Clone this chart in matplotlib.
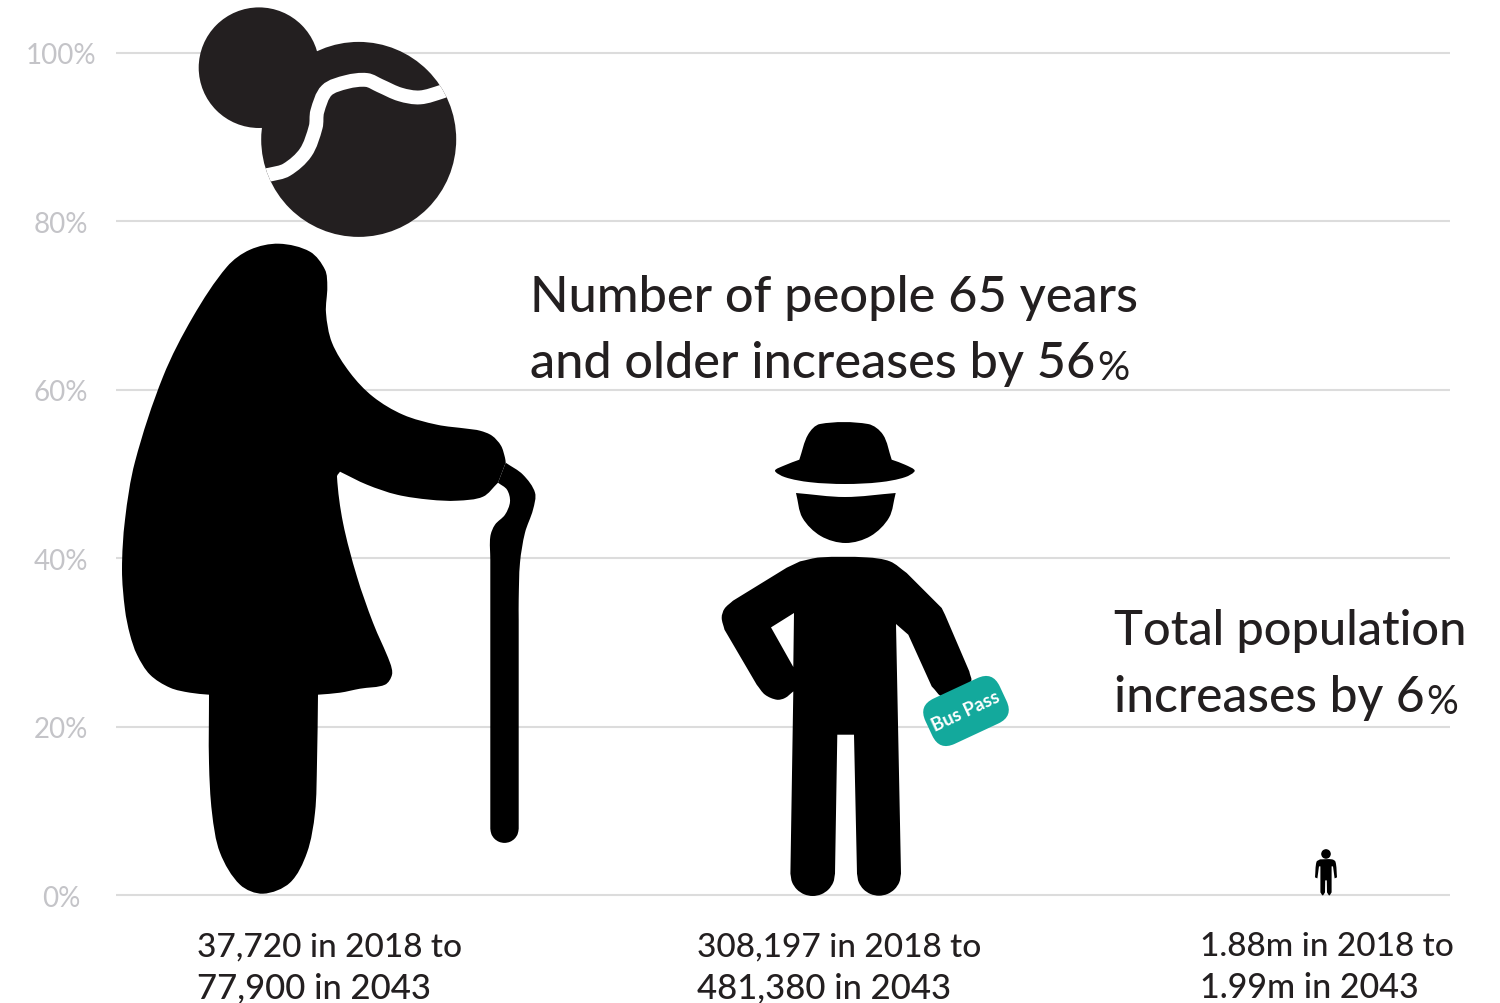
import matplotlib
matplotlib.use("Agg")
import matplotlib.pyplot as plt
import numpy as np
from matplotlib.patches import BoxStyle, PathPatch
from matplotlib.path import Path
from matplotlib.transforms import Affine2D

plt.rcParams["font.family"] = ["Lato", "DejaVu Sans"]

# Growth from 2018 to 2043, in percent, one figure per age group
groups = ["85 and older", "65 and older", "Total population"]
growth = [106.5, 56, 6]
bottom_lines = [
    ("37,720 in 2018 to", "77,900 in 2043"),
    ("308,197 in 2018 to", "481,380 in 2043"),
    ("1.88m in 2018 to", "1.99m in 2043"),
]
y_ticks = [0, 20, 40, 60, 80, 100]
y_tick_labels = ["0%", "20%", "40%", "60%", "80%", "100%"]

W, H = 1500, 1004
LEFT, RIGHT, TOP, BASE = 116.0, 1450.0, 54.0, 896.4
ART_BASE = 895.7
UNIT = (BASE - TOP) / 100.0
INK = "#231f20"
GRID = "#dcdcdc"
TICK = "#c4c4c8"
TEAL = "#13a99c"


def arc(cx, cy, r, start, end, n=9):
    """Points along a circular arc, angles in degrees, y running downwards."""
    a = np.radians(np.linspace(start, end, n))
    return list(zip(cx + r * np.cos(a), cy + r * np.sin(a)))


# Icon artwork, y running downwards; runs join at sharp corners
WOMAN_BODY = [
    [(505.7, 463), (505, 458), (501, 446), (492, 436), (480, 431), (467, 429), (437, 425), (403, 415), (373, 397),
     (350, 373), (332, 343), (326, 313), (327.3, 287), (325, 270), (310, 252), (279, 244), (250, 250),
     (227, 267), (193, 317), (163, 377), (135, 462), (125, 520), (122, 570), (125, 610), (130, 635), (137, 655),
     (150, 675), (170, 688), (190, 693), (209, 695)],
    [(209, 695), (209, 763), (212, 813), (220, 853), (240, 885), (263, 894), (290, 883), (307, 853),
     (315, 813), (317, 763), (318, 695)],
    [(318, 695), (340, 693), (360, 689), (385, 685), (392, 675), (390, 663), (373, 623), (357, 577),
     (343, 523), (337, 477), (340, 472)],
    [(340, 472), (367, 485), (397, 495), (430, 500), (457, 501), (483, 497), (498, 483)],
    [(498, 483), (505.7, 463)],
]
WOMAN_CANE = [
    [(505.7, 463), (523, 475), (535, 493), (533, 510), (525, 533), (520, 563), (518.7, 600), (518.7, 620)],
    [(518.7, 620), (518.7, 829)],
    arc(504.5, 829, 14.2, 0, 180),
    [(490.3, 829), (490.3, 560)],
    [(490.3, 560), (490.3, 537), (495, 525), (505, 515), (510, 502), (507, 490), (498, 483)],
    [(498, 483), (505.7, 463)],
]
HEAD_CENTRE, HEAD_RADIUS = (358.7, 139.7), 97.5
BUN_CENTRE, BUN_RADIUS = (259.0, 68.0), 60.3
HAIR_LINE = [(261.7, 176), (269.3, 175), (286.7, 170), (305.7, 152.7), (315.7, 127.3), (317.3, 111.7), (326.7, 90.7),
             (346.7, 82.3), (366.7, 80.3), (380, 86), (400, 94.7), (420, 97.7), (442.7, 91.7), (453, 87.3)]

MAN_HAT = [
    [(799.3, 460), (808, 435), (820, 424.3), (868, 424.3), (883, 435), (891.7, 460)],
    [(891.7, 460), (905, 465), (914.7, 471), (905, 477.5), (880, 482.5), (845, 484.3), (810, 482.5), (785, 477.5),
     (775, 471), (785, 465.5), (799.3, 460)],
]
MAN_FACE = [
    [(796, 493.3), (845, 497.3), (895.7, 493.3)],
    [(895.7, 493.3), (889, 518), (870.7, 536.3), (845.7, 543.3), (820.7, 536.3), (802.4, 518), (796, 493.3)],
]
MAN_BODY = [
    [(800, 561.7), (820, 557.7), (866.7, 557.7), (890, 561.7), (906.7, 573.3)],
    [(906.7, 573.3), (941.7, 608.3)],
    [(941.7, 608.3), (945, 615)],
    [(945, 615), (969.3, 671.7)],
    [(969.3, 671.7), (970.7, 682), (943, 696.7), (931.7, 686.7)],
    [(931.7, 686.7), (908.3, 635)],
    [(908.3, 635), (896, 624.3)],
    [(896, 624.3), (901, 874)],
    arc(879, 874, 22, 0, 180),
    [(857, 874), (854, 735)],
    [(854, 735), (837.3, 735)],
    [(837.3, 735), (835, 874)],
    arc(812.7, 874, 22.3, 0, 180),
    [(790.4, 874), (793.3, 691.7)],
    [(793.3, 691.7), (785, 698.3), (776.7, 700), (765, 695), (756.7, 685)],
    [(756.7, 685), (724.5, 630)],
    [(724.5, 630), (721.7, 618), (724.5, 609), (733, 601)],
    [(733, 601), (786.7, 568)],
    [(786.7, 568), (800, 561.7)],
]
MAN_ARM_GAP = [[(794, 613.3), (771, 627.7)], [(771, 627.7), (793.3, 667.3)], [(793.3, 667.3), (794, 613.3)]]
PASS_CENTRE, PASS_SIZE, PASS_ANGLE = (966.0, 711.3), (82.0, 50.0), 25.0

# Small standing person, centred on x = 0, baseline at y = 0, full box 50.5 high
PERSON_HEAD_CENTRE, PERSON_HEAD_RADIUS = (0.0, -41.4), 4.8
PERSON_BODY = [
    [(-6, -36), (6, -36), (9.5, -33.5), (11, -18)],
    [(11, -18), (8.6, -17)],
    [(8.6, -17), (7, -29)],
    [(7, -29), (5.6, -29)],
    [(5.6, -29), (5.6, -3)],
    [(5.6, -3), (3.3, 0), (1, -3)],
    [(1, -3), (0.8, -15)],
    [(0.8, -15), (-0.8, -15)],
    [(-0.8, -15), (-1, -3)],
    [(-1, -3), (-3.3, 0), (-5.6, -3)],
    [(-5.6, -3), (-5.6, -29)],
    [(-5.6, -29), (-7, -29)],
    [(-7, -29), (-8.6, -17)],
    [(-8.6, -17), (-11, -18)],
    [(-11, -18), (-9.5, -33.5), (-6, -36)],
]


def outline(runs, close=True):
    """Turn runs of traced points into one Bezier path (chord-length spline within a run)."""
    verts, codes = [], []
    for r_i, run in enumerate(runs):
        p = np.asarray(run, float)
        if r_i == 0:
            verts.append(p[0])
            codes.append(Path.MOVETO)
        d = np.linalg.norm(np.diff(p, axis=0), axis=1)
        t = np.concatenate([[0], np.cumsum(d)])
        m = np.zeros_like(p)
        m[0] = (p[1] - p[0]) / d[0]
        m[-1] = (p[-1] - p[-2]) / d[-1]
        for i in range(1, len(p) - 1):
            m[i] = (p[i + 1] - p[i - 1]) / (t[i + 1] - t[i - 1])
        for i in range(len(p) - 1):
            verts += [p[i] + m[i] * d[i] / 3, p[i + 1] - m[i + 1] * d[i] / 3, p[i + 1]]
            codes += [Path.CURVE4] * 3
    if close:
        verts.append(verts[0])
        codes.append(Path.CLOSEPOLY)
    return Path(np.array(verts), codes)


def circle(centre, radius):
    return Path.circle(centre, radius)


def placed(path, anchor_x, anchor_to, value, box, base=0.0):
    """Scale artwork so that its box height equals value on the y axis."""
    s = value * UNIT / box
    v = path.vertices
    out = np.column_stack([anchor_to + s * (v[:, 0] - anchor_x), s * (base - v[:, 1]) / UNIT])
    return Path(out, path.codes)


fig = plt.figure(figsize=(W / 100, H / 100), dpi=100, facecolor="white")
ax = fig.add_axes([LEFT / W, 1 - BASE / H, (RIGHT - LEFT) / W, (BASE - TOP) / H])
ax.set_xlim(LEFT, RIGHT)
ax.set_ylim(0, 100)
for side in ax.spines.values():
    side.set_visible(False)
ax.set_xticks([])
ax.set_yticks(y_ticks)
ax.set_yticklabels(y_tick_labels, fontsize=20, color=TICK, ha="center")
ax.tick_params(axis="y", length=0, pad=39.5)
ax.grid(axis="y", color=GRID, linewidth=1.5, zorder=0, solid_capstyle="butt")
for line in ax.get_ygridlines():
    line.set_clip_on(False)
ax.set_axisbelow(True)

centres = [328.0, 845.0, 1326.0]
woman_box = 106.5 * UNIT
man_box = 56 * UNIT


def draw(path, colour, zorder=3, **kw):
    patch = PathPatch(path, facecolor=colour, edgecolor="none", zorder=zorder, clip_on=False, **kw)
    ax.add_patch(patch)
    return patch


# Oldest group: woman with bun and walking stick
wargs = (centres[0], centres[0], growth[0], woman_box, ART_BASE)
draw(placed(outline(WOMAN_BODY), *wargs), "black")
draw(placed(outline(WOMAN_CANE), *wargs), "black")
head_patch = draw(placed(circle(HEAD_CENTRE, HEAD_RADIUS), *wargs), INK)
draw(placed(circle(BUN_CENTRE, BUN_RADIUS), *wargs), INK)
hair_xy = placed(outline([HAIR_LINE], close=False), *wargs)
hair = PathPatch(hair_xy, facecolor="none", edgecolor="white", linewidth=10, zorder=4, capstyle="butt")
ax.add_patch(hair)
hair.set_clip_path(head_patch)

# Middle group: man in a hat holding a bus pass
margs = (centres[1], centres[1], growth[1], man_box, ART_BASE)
draw(placed(outline(MAN_HAT), *margs), "black")
draw(placed(outline(MAN_FACE), *margs), "black")
draw(placed(outline(MAN_BODY), *margs), "black")
draw(placed(outline(MAN_ARM_GAP), *margs), "white", zorder=3.5)

pw, ph = PASS_SIZE
pill = BoxStyle("Round", pad=0, rounding_size=17)(-pw / 2, -ph / 2, pw, ph, 1.0)
pill = pill.transformed(Affine2D().rotate_deg(-PASS_ANGLE).translate(*PASS_CENTRE))
draw(placed(pill, *margs), TEAL, zorder=5)
ax.text(PASS_CENTRE[0], (ART_BASE - PASS_CENTRE[1]) / UNIT, "Bus Pass", color="white", fontsize=13.5,
        fontweight="bold", rotation=PASS_ANGLE, rotation_mode="anchor", ha="center", va="center", zorder=6)

# Whole population: small standing person
pargs = (0.0, centres[2], growth[2], 50.5, 0.0)
draw(placed(circle(PERSON_HEAD_CENTRE, PERSON_HEAD_RADIUS), *pargs), "black")
draw(placed(outline(PERSON_BODY), *pargs), "black")


def page_text(x, y, s, **kw):
    return fig.text(x / W, 1 - y / H, s, va="baseline", ha="left", color=INK, fontweight="medium", **kw)


def headline(x, y, s, size):
    """Text whose trailing percent sign is set smaller."""
    body = page_text(x, y, s, fontsize=size)
    ax.annotate("%", xy=(1, 0), xycoords=body, xytext=(1.5, 0), textcoords="offset points",
                fontsize=size * 0.8, color=INK, ha="left", va="bottom", annotation_clip=False)


page_text(530, 312, "Number of people 65 years", fontsize=36.4)
headline(530, 378, "and older increases by 56", 36.3)
page_text(1114, 645, "Total population", fontsize=35.1)
headline(1114, 712, "increases by 6", 35.8)

label_left = [197, 697, 1200]
first_sizes = [24.0, 24.0, 24.0]
second_sizes = [24.9, 24.9, 24.5]
for x0, (first, second), s1, s2 in zip(label_left, bottom_lines, first_sizes, second_sizes):
    page_text(x0, 956, first, fontsize=s1)
    page_text(x0, 998.5, second, fontsize=s2)

fig.savefig("out.png", dpi=100, facecolor="white")
